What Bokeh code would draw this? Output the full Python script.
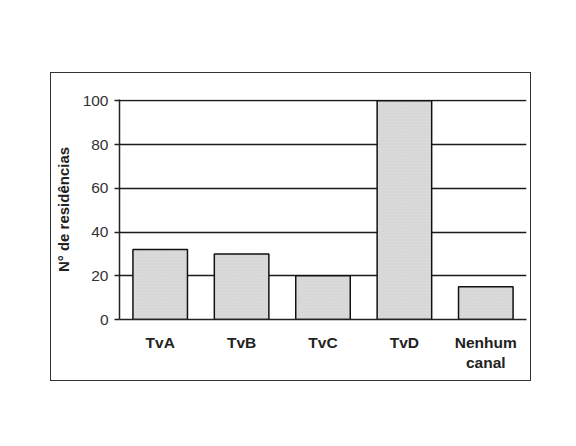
from bokeh.plotting import figure
from bokeh.models import Range1d, FactorRange, ColumnDataSource
from bokeh.embed import file_html
from bokeh.resources import INLINE

categories = ["TvA", "TvB", "TvC", "TvD", "Nenhum\ncanal"]
values = [32, 30, 20, 100, 15]
y_ticks = [0, 20, 40, 60, 80, 100]

src = ColumnDataSource(dict(cat=categories, val=values))

p = figure(width=481, height=309, output_backend="svg", toolbar_location=None,
           x_range=FactorRange(*categories, range_padding=0),
           y_range=Range1d(0, 100.6))
p.margin = (72, 0, 0, 50)
p.styles = {"border": "1.5px solid #333", "box-sizing": "border-box"}
p.min_border_left = 66
p.min_border_right = 6
p.min_border_top = 26
p.min_border_bottom = 63
p.outline_line_color = None
p.background_fill_color = "white"
p.border_fill_color = "white"

p.vbar(x="cat", top="val", width=0.67, source=src, fill_color="#dadada",
       line_color="#111111", line_width=1.5,
       hatch_pattern="dot", hatch_color="#bdbdbd", hatch_scale=3, hatch_alpha=0.4)

p.xgrid.grid_line_color = None
p.ygrid.grid_line_color = "#1a1a1a"
p.ygrid.grid_line_width = 1.3
p.yaxis.ticker = y_ticks

p.yaxis.axis_label = "N° de residências"
p.yaxis.axis_label_text_font = "Liberation Sans"
p.yaxis.axis_label_text_font_style = "bold"
p.yaxis.axis_label_text_font_size = "15px"
p.yaxis.axis_label_text_color = "#222"
p.yaxis.axis_label_standoff = 8
p.yaxis.major_label_text_font = "Liberation Sans"
p.yaxis.major_label_text_font_size = "15.5px"
p.yaxis.major_label_text_color = "#333"
p.yaxis.major_label_standoff = 6
p.yaxis.major_tick_out = 5
p.yaxis.major_tick_in = 0
p.yaxis.minor_tick_line_color = None
p.yaxis.axis_line_width = 1.5
p.yaxis.axis_line_color = "#222"
p.yaxis.major_tick_line_color = "#222"
p.yaxis.major_tick_line_width = 1.5

p.xaxis.major_tick_line_color = None
p.xaxis.minor_tick_line_color = None
p.xaxis.axis_line_width = 1.5
p.xaxis.axis_line_color = "#222"
p.xaxis.major_label_text_font = "Liberation Sans"
p.xaxis.major_label_text_font_style = "bold"
p.xaxis.major_label_text_font_size = "15.5px"
p.xaxis.major_label_text_color = "#222"
p.xaxis.major_label_standoff = 8

open("out.html", "w").write(file_html(p, INLINE))
